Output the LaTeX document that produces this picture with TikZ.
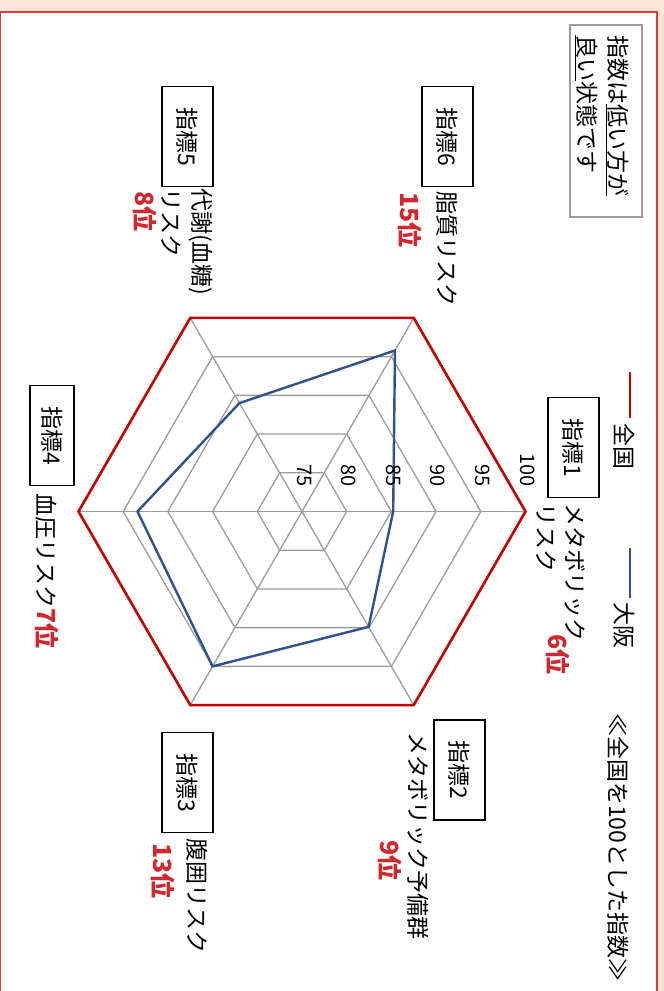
\documentclass[tikz,border=0pt]{standalone}
\usepackage{fontspec}
\setmainfont{Noto Sans CJK JP}
\definecolor{peach}{HTML}{FCE4D6}
\definecolor{framered}{HTML}{E0393E}
\definecolor{natred}{HTML}{C00000}
\definecolor{osakablue}{HTML}{2F528F}
\definecolor{gridgray}{HTML}{9C9C9C}
\definecolor{rankred}{HTML}{D0282E}

\begin{document}
\begin{tikzpicture}[x=1pt, y=-1pt,
    every node/.style={rotate=-90, inner sep=0pt},
    lbl/.style={anchor=west, align=left, font=\fontsize{23}{29}\selectfont},
    idxbox/.style={draw, line width=1.3pt, minimum width=100pt, minimum height=51pt, font=\fontsize{23}{28}\selectfont},
    rank/.style={anchor=west, text=rankred, font=\fontsize{25}{30}\selectfont\bfseries},
    tick/.style={anchor=east, font=\fontsize{20}{22}\selectfont},
    grid/.style={draw=gridgray, line width=1.3pt}
    ]
  \useasboundingbox (0,0) rectangle (664,991);
  \fill[peach] (0,0) rectangle (664,991);
  \fill[white] (0,12) rectangle (657,991);
  \draw[framered, line width=2pt] (0,991) -- (0,12) -- (657,12) -- (657,991);

  \begin{scope}[shift={(302,511.5)}, yscale=-1]
    \foreach \k in {1,...,4}
      \draw[grid] (0:{\k*44.7}) \foreach \a in {60,120,...,300} {-- (\a:{\k*44.7})} -- cycle;
    \foreach \a in {0,60,...,300}
      \draw[grid] (0,0) -- (\a:223.5);
    \draw[natred, line width=2.6pt] (0:223.5) \foreach \a in {60,120,...,300} {-- (\a:223.5)} -- cycle;
    \foreach \a/\v [count=\i] in {0/85.2,-60/89.9,-120/95.0,180/93.4,120/89.0,60/95.8}
      \coordinate (o\i) at (\a:{(\v-75)*8.94});
    \draw[osakablue, line width=2.4pt] (o1) -- (o2) -- (o3) -- (o4) -- (o5) -- (o6) -- cycle;
    \foreach \v [count=\k from 0] in {75,80,...,100}
      \node[tick] (t\v) at (\k*44.7+2, 25) {\v};
  \end{scope}

  \node[draw=gridgray, line width=1.5pt, minimum width=192pt, minimum height=72pt] (note) at (606,121) {};
  \node[lbl, font=\fontsize{23}{31}\selectfont] (notetxt) at (601.5,35) {指数は\underline{低い方が}\\\underline{良い}状態です};

  \node[lbl] (natl) at (624,423) {全国};
  \draw[natred, line width=2.6pt] (natl.west) ++(6,-5) -- ++(0,-46);
  \node[lbl] (osaka) at (624,602) {大阪};
  \draw[osakablue, line width=2.6pt] (osaka.west) ++(6,-4) -- ++(0,-50);

  \node[idxbox] (i1) at (573.5,447.5) {指標1};
  \node[lbl] (l1) at (561,503) {メタボリック\\リスク};
  \node[rank] (r1) at (558,634) {6位};

  \node[idxbox] (i2) at (459.5,770) {指標2};
  \node[lbl] (l2) at (418,732) {メタボリック予備群};
  \node[rank] (r2) at (390,840) {9位};

  \node[idxbox] (i3) at (187.5,782.5) {指標3};
  \node[lbl] (l3) at (197,838) {腹囲リスク};
  \node[rank] (r3) at (163,843) {13位};

  \node[idxbox, minimum height=44pt] (i4) at (52,435.5) {指標4};
  \node[lbl] (l4) at (47,493) {血圧リスク{\color{rankred}\fontsize{25}{30}\selectfont\bfseries 7位}};

  \node[idxbox] (i5) at (187.5,136.5) {指標5};
  \node[lbl, font=\fontsize{23}{31}\selectfont] (l5) at (187.5,188) {代謝(血糖)\\リスク};
  \node[rank] (r5) at (145,191) {8位};

  \node[idxbox] (i6) at (447.5,136.5) {指標6};
  \node[lbl] (l6) at (447,191) {脂質リスク};
  \node[rank] (r6) at (410,192) {15位};

  \node[lbl] (base) at (618,713) {≪全国を100とした指数≫};
\end{tikzpicture}
\end{document}
